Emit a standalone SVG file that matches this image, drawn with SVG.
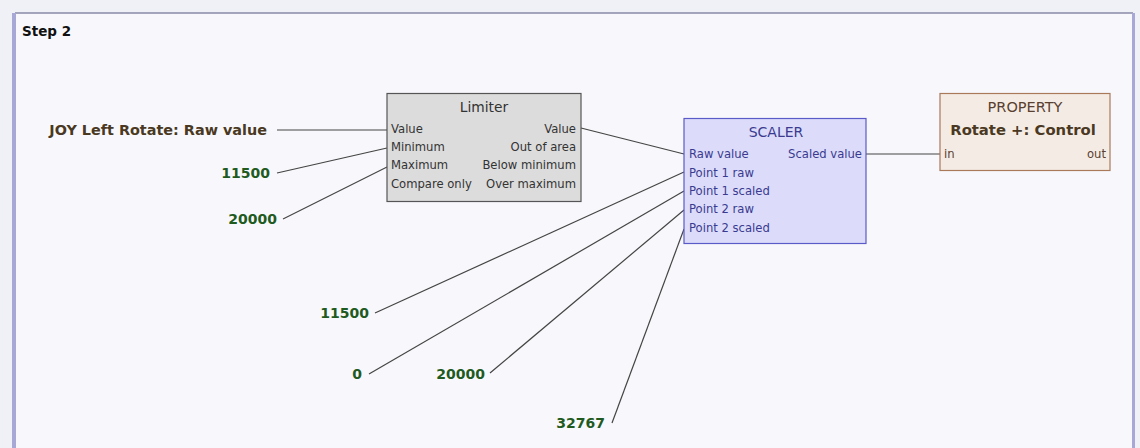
<svg xmlns="http://www.w3.org/2000/svg" width="1140" height="448" viewBox="0 0 1140 448">
<style>
.lbl{font-family:"DejaVu Sans",Verdana,sans-serif;font-size:11.6px;}
.tit{font-family:"DejaVu Sans",Verdana,sans-serif;font-size:13.8px;}
.bold{font-family:"DejaVu Sans",Verdana,sans-serif;font-size:14px;font-weight:bold;}
.num{fill:#1f5a1f;}
.wire{stroke:#444;stroke-width:1.2;fill:none;}
</style>
<rect x="0" y="0" width="1140" height="448" fill="#f0f0f7"/>
<rect x="15" y="13" width="1118" height="440" fill="#f8f8fc"/>
<line x1="15" y1="13" x2="1133" y2="13" stroke="#8a8aa8" stroke-width="1.5"/>
<rect x="12" y="13" width="4" height="440" fill="#a8a8d6"/>
<rect x="1132" y="13" width="3" height="440" fill="#a8a8d6"/>
<text x="22" y="36" class="bold" fill="#111" style="font-size:13.5px">Step 2</text>

<g id="connectors" class="wire">
<line x1="277" y1="130" x2="387" y2="130"/>
<line x1="277" y1="173" x2="387" y2="148"/>
<line x1="283" y1="219" x2="387" y2="167"/>
<line x1="581" y1="128" x2="684" y2="154"/>
<line x1="866" y1="154" x2="940" y2="154"/>
<line x1="375" y1="313" x2="684" y2="172"/>
<line x1="369" y1="374" x2="684" y2="191"/>
<line x1="490" y1="373" x2="684" y2="210"/>
<line x1="612" y1="423" x2="684" y2="229"/>
</g>

<g id="src-joy"><text x="267" y="135" class="bold" text-anchor="end" fill="#4a3822" style="font-size:14.4px">JOY Left Rotate: Raw value</text></g>
<g id="c-11500a"><text x="270" y="178" class="bold num" text-anchor="end">11500</text></g>
<g id="c-20000a"><text x="277" y="224" class="bold num" text-anchor="end">20000</text></g>
<g id="c-11500b"><text x="369" y="318" class="bold num" text-anchor="end">11500</text></g>
<g id="c-0"><text x="362" y="379" class="bold num" text-anchor="end">0</text></g>
<g id="c-20000b"><text x="485" y="379" class="bold num" text-anchor="end">20000</text></g>
<g id="c-32767"><text x="605" y="428" class="bold num" text-anchor="end">32767</text></g>

<g id="limiter">
<rect x="387" y="93.5" width="194" height="108" fill="#dcdcdc" stroke="#555" stroke-width="1.2"/>
<text x="484" y="112" class="tit" text-anchor="middle" fill="#333">Limiter</text>
<g class="lbl" fill="#333">
<text x="391" y="133">Value</text>
<text x="391" y="151">Minimum</text>
<text x="391" y="169">Maximum</text>
<text x="391" y="188">Compare only</text>
<text x="576" y="133" text-anchor="end">Value</text>
<text x="576" y="151" text-anchor="end">Out of area</text>
<text x="576" y="169" text-anchor="end">Below minimum</text>
<text x="576" y="188" text-anchor="end">Over maximum</text>
</g>
</g>

<g id="scaler">
<rect x="684" y="118.5" width="182" height="125" fill="#dcdcfa" stroke="#5a5ac8" stroke-width="1.2"/>
<text x="776" y="137" class="tit" text-anchor="middle" fill="#3a3a90" style="font-size:14px">SCALER</text>
<g class="lbl" fill="#3a3a90">
<text x="689" y="158">Raw value</text>
<text x="689" y="177">Point 1 raw</text>
<text x="689" y="195">Point 1 scaled</text>
<text x="689" y="213">Point 2 raw</text>
<text x="689" y="232">Point 2 scaled</text>
<text x="862" y="158" text-anchor="end">Scaled value</text>
</g>
</g>

<g id="property">
<rect x="940" y="93.5" width="170" height="77" fill="#f4ece4" stroke="#a87a5a" stroke-width="1.2"/>
<text x="1025" y="112" class="tit" text-anchor="middle" fill="#5a4030" style="font-size:14.5px">PROPERTY</text>
<text x="1023" y="135" class="bold" text-anchor="middle" fill="#4a3822" style="font-size:14.8px">Rotate +: Control</text>
<g class="lbl" fill="#5a4030">
<text x="944" y="158">in</text>
<text x="1106" y="158" text-anchor="end">out</text>
</g>
</g>
</svg>
